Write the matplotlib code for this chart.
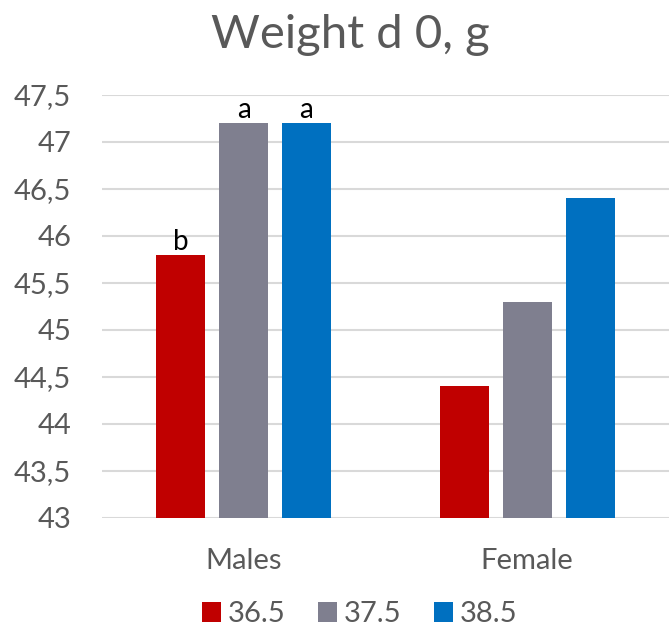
import numpy as np
import matplotlib.pyplot as plt

groups = ['Males', 'Female']
temps = ['36.5', '37.5', '38.5']
w_365 = [45.8, 44.4]
w_375 = [47.2, 45.3]
w_385 = [47.2, 46.4]
letters_365 = ['b', '']
letters_375 = ['a', '']
letters_385 = ['a', '']

colors = ['#c00000', '#7f7f8f', '#0070c0']
txt = '#595959'

plt.rcParams['font.family'] = ['Lato', 'DejaVu Sans']

fig = plt.figure(figsize=(6.69, 6.33), dpi=100)
ax = fig.add_axes([0.152, 0.182, 0.848, 0.668])

x = np.arange(len(groups))
width = 0.173
step = 0.222
series = [w_365, w_375, w_385]
letters = [letters_365, letters_375, letters_385]
for i, (vals, lab) in enumerate(zip(series, letters)):
    bars = ax.bar(x + (i - 1) * step, np.array(vals) - 43, width, bottom=43,
                  color=colors[i], label=temps[i], zorder=3)
    for b, v, t in zip(bars, vals, lab):
        if t:
            ax.text(b.get_x() + b.get_width() / 2, v, t, ha='center', va='bottom',
                    fontsize=20, color='black')

ax.set_xlim(-0.5, 1.5)
ax.set_ylim(43, 47.5)
ax.set_yticks(np.arange(43, 47.51, 0.5))
ax.set_yticklabels([('%g' % v).replace('.', ',') for v in np.arange(43, 47.51, 0.5)])
ax.set_xticks(x)
ax.set_xticklabels(groups)
ax.tick_params(length=0, labelsize=21, colors=txt)
ax.tick_params(axis='y', pad=22)
ax.tick_params(axis='x', pad=22)
ax.grid(axis='y', color='#d9d9d9', linewidth=1.5, zorder=0)
for s in ax.spines.values():
    s.set_visible(False)

fig.text(0.523, 0.945, 'Weight d 0, g', ha='center', va='center', fontsize=34, color=txt)

ax.legend(loc='upper center', bbox_to_anchor=(0.455, -0.135), ncol=3, frameon=False,
          fontsize=21, labelcolor=txt, handlelength=0.65, handleheight=0.65,
          handletextpad=0.25, columnspacing=1.1)

plt.savefig('out.png', dpi=100)
